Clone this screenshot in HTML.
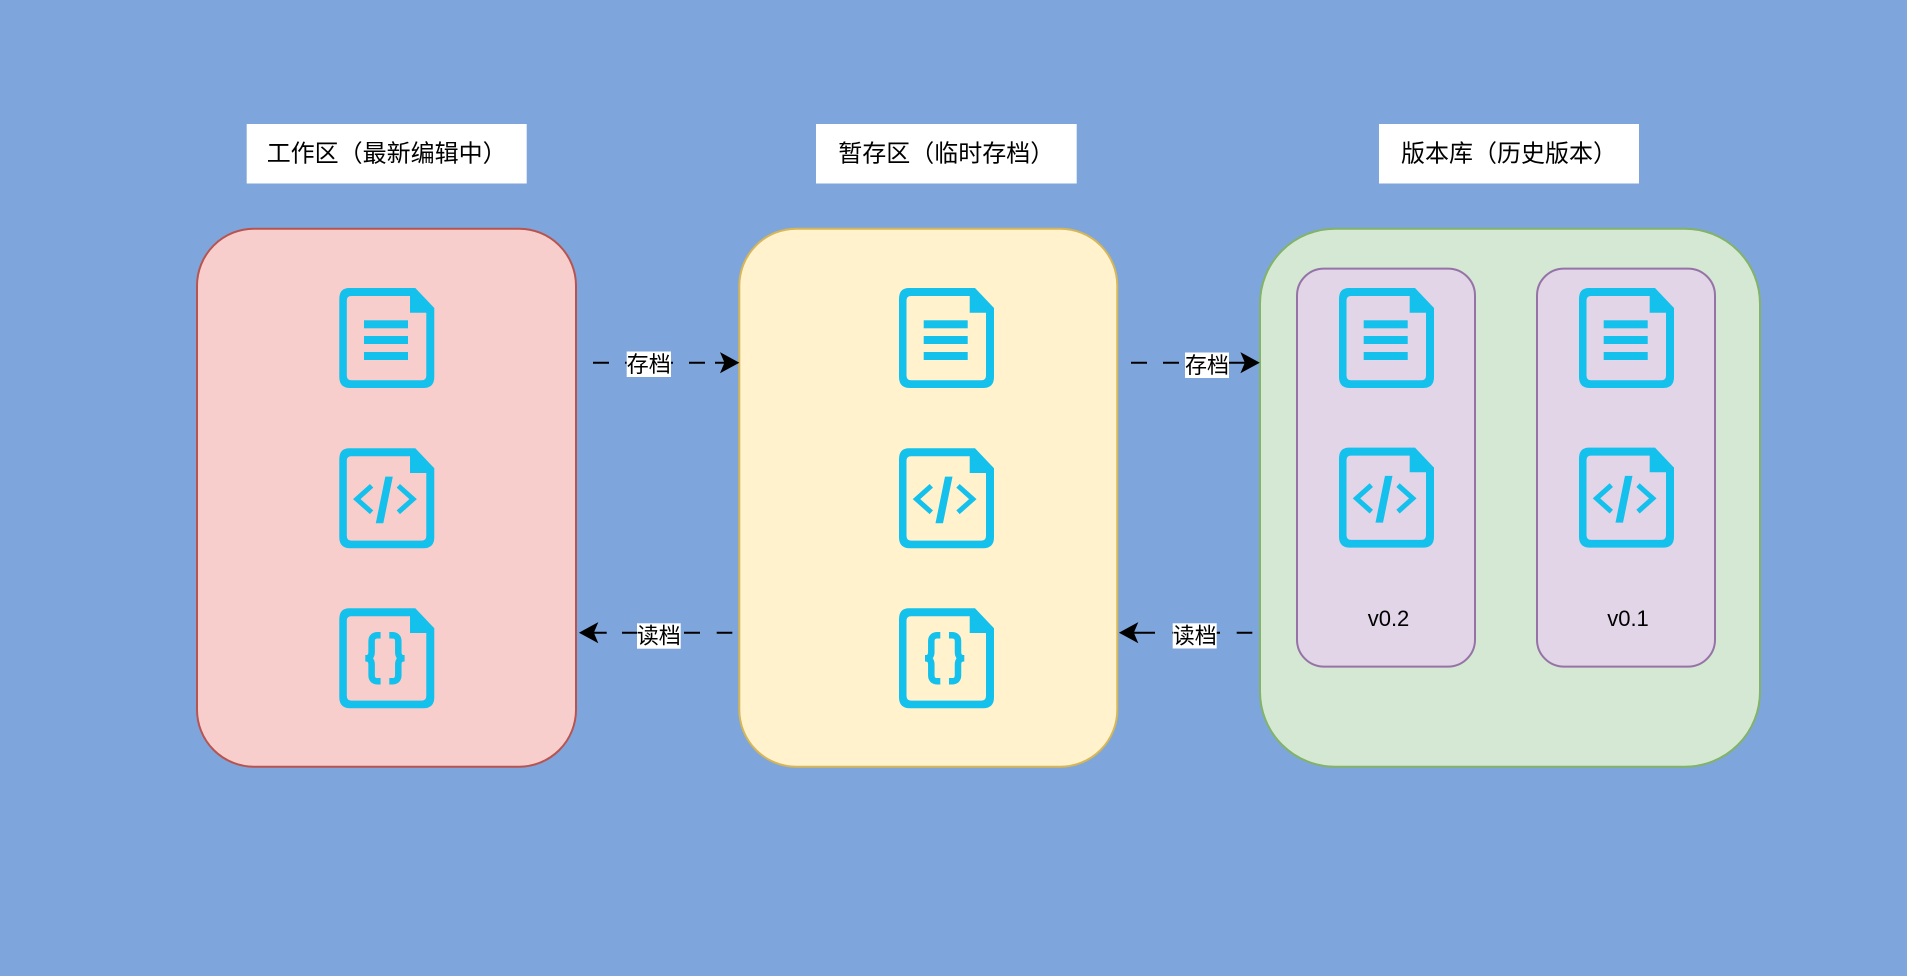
<!DOCTYPE html>
<html>
<head>
<meta charset="utf-8">
<style>
  html, body { margin: 0; padding: 0; }
  body { width: 1907px; height: 976px; background: #7EA6DC; overflow: hidden; }
  svg { display: block; }
  .t { font-family: "Liberation Sans", "Noto Sans CJK SC", sans-serif; fill: #000; }
</style>
</head>
<body>
<svg width="1907" height="976" viewBox="0 0 1907 976" xmlns="http://www.w3.org/2000/svg">
  <defs>
    <path id="frame" fill="#14C0EC" fill-rule="evenodd"
      d="M10,0 H76 L95,20 V89 Q95,100 84,100 H11 Q0,100 0,89 V11 Q0,0 10,0 Z
         M12,8 Q7.5,8 7.5,12.5 V87.5 Q7.5,92.3 12,92.3 H82.5 Q87,92.3 87,87.5 V24.7 H70.7 V8 Z"/>
    <g id="doc">
      <use href="#frame"/>
      <rect x="24.7" y="32.3" width="44" height="8" fill="#14C0EC"/>
      <rect x="24.7" y="48" width="44" height="8" fill="#14C0EC"/>
      <rect x="24.7" y="64" width="44" height="8" fill="#14C0EC"/>
    </g>
    <g id="code">
      <use href="#frame"/>
      <polyline points="32.3,37.5 17.5,50.8 32.3,64" fill="none" stroke="#14C0EC" stroke-width="5" stroke-linejoin="miter" stroke-miterlimit="10"/>
      <polyline points="59,37.5 73.8,50.8 59,64" fill="none" stroke="#14C0EC" stroke-width="5" stroke-linejoin="miter" stroke-miterlimit="10"/>
      <polygon points="46,28.3 53.5,28.3 44,75 36.5,75" fill="#14C0EC"/>
    </g>
    <g id="brace">
      <use href="#frame"/>
      <path d="M41.3,27 H38.5 Q32.3,27 32.3,33 V44 Q32.3,50 26,50 Q32.3,50 32.3,56 V67 Q32.3,73 38.5,73 H41.3" fill="none" stroke="#14C0EC" stroke-width="6.5"/>
      <path transform="translate(91.3,0) scale(-1,1)" d="M41.3,27 H38.5 Q32.3,27 32.3,33 V44 Q32.3,50 26,50 Q32.3,50 32.3,56 V67 Q32.3,73 38.5,73 H41.3" fill="none" stroke="#14C0EC" stroke-width="6.5"/>
    </g>
  </defs>

  <!-- Title labels -->
  <rect x="246.7" y="124" width="280" height="59.5" fill="#FFFFFF"/>
  <text class="t" x="386.7" y="154" font-size="24" text-anchor="middle" dominant-baseline="central">工作区（最新编辑中）</text>
  <rect x="816" y="124" width="260.7" height="59.5" fill="#FFFFFF"/>
  <text class="t" x="946.3" y="154" font-size="24" text-anchor="middle" dominant-baseline="central">暂存区（临时存档）</text>
  <rect x="1379" y="124" width="260" height="59.5" fill="#FFFFFF"/>
  <text class="t" x="1509" y="154" font-size="24" text-anchor="middle" dominant-baseline="central">版本库（历史版本）</text>

  <!-- Main boxes -->
  <rect x="197" y="228.7" width="379" height="538" rx="57" ry="57" fill="#F8CECC" stroke="#B85450" stroke-width="2"/>
  <rect x="739.3" y="228.7" width="378" height="538" rx="57" ry="57" fill="#FFF2CC" stroke="#D6B656" stroke-width="2"/>
  <rect x="1260" y="228.7" width="500" height="538" rx="75" ry="75" fill="#D5E8D4" stroke="#82B366" stroke-width="2"/>

  <!-- Version boxes -->
  <rect x="1297" y="268.6" width="178" height="398" rx="27" ry="27" fill="#E1D5E7" stroke="#9673A6" stroke-width="2"/>
  <rect x="1537" y="268.6" width="178" height="398" rx="27" ry="27" fill="#E1D5E7" stroke="#9673A6" stroke-width="2"/>

  <!-- Icons: working area -->
  <use href="#doc" x="339.3" y="288"/>
  <use href="#code" x="339.3" y="448.3"/>
  <use href="#brace" x="339.3" y="608.3"/>

  <!-- Icons: staging area -->
  <use href="#doc" x="899" y="288"/>
  <use href="#code" x="899" y="448.3"/>
  <use href="#brace" x="899" y="608.3"/>

  <!-- Icons: repository -->
  <use href="#doc" x="1339" y="288"/>
  <use href="#code" x="1339" y="447.6"/>
  <use href="#doc" x="1579" y="288"/>
  <use href="#code" x="1579" y="447.6"/>

  <text class="t" x="1388.5" y="618.5" font-size="22" text-anchor="middle" dominant-baseline="central">v0.2</text>
  <text class="t" x="1628" y="618.5" font-size="22" text-anchor="middle" dominant-baseline="central">v0.1</text>

  <!-- Arrow A: 存档 pink -> yellow -->
  <path d="M593 362.7H609 M625 362.7H641 M657 362.7H673 M689 362.7H705 M715 362.7H726" stroke="#000" stroke-width="2" fill="none"/>
  <path d="M738.3 362.7 L721 353.3 L725 362.7 L721 372.1 Z" fill="#000" stroke="#000" stroke-width="1"/>
  <rect x="626.7" y="351.5" width="44.3" height="25.5" fill="#FFFFFF"/>
  <text class="t" x="648.8" y="364.3" font-size="22" text-anchor="middle" dominant-baseline="central">存档</text>

  <!-- Arrow B: 存档 yellow -> green -->
  <path d="M1131 362.7H1147 M1163 362.7H1179 M1195 362.7H1211 M1227 362.7H1245" stroke="#000" stroke-width="2" fill="none"/>
  <path d="M1258.7 362.7 L1241.4 353.3 L1245.4 362.7 L1241.4 372.1 Z" fill="#000" stroke="#000" stroke-width="1"/>
  <rect x="1185" y="352.5" width="44" height="25.5" fill="#FFFFFF"/>
  <text class="t" x="1207" y="365.3" font-size="22" text-anchor="middle" dominant-baseline="central">存档</text>

  <!-- Arrow C: 读档 yellow -> pink -->
  <path d="M593 632.7H606.7 M622 632.7H638 M652 632.7H668 M684 632.7H700 M716.7 632.7H732.3" stroke="#000" stroke-width="2" fill="none"/>
  <path d="M580 632.7 L597.3 623.3 L593.3 632.7 L597.3 642.1 Z" fill="#000" stroke="#000" stroke-width="1"/>
  <rect x="637" y="623.3" width="43.7" height="25.4" fill="#FFFFFF"/>
  <text class="t" x="658.8" y="636" font-size="22" text-anchor="middle" dominant-baseline="central">读档</text>

  <!-- Arrow D: 读档 green -> yellow -->
  <path d="M1133 632.7H1155 M1172 632.7H1188 M1204 632.7H1220 M1236.7 632.7H1252.3" stroke="#000" stroke-width="2" fill="none"/>
  <path d="M1120 632.7 L1137.3 623.3 L1133.3 632.7 L1137.3 642.1 Z" fill="#000" stroke="#000" stroke-width="1"/>
  <rect x="1172.7" y="623.3" width="44" height="25.2" fill="#FFFFFF"/>
  <text class="t" x="1194.7" y="636" font-size="22" text-anchor="middle" dominant-baseline="central">读档</text>
</svg>
</body>
</html>
